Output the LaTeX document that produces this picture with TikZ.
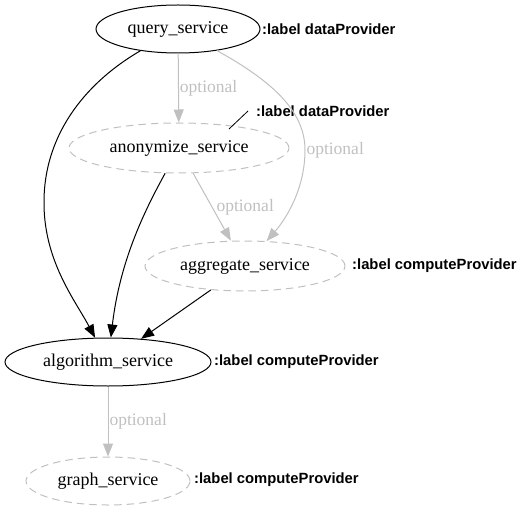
\documentclass[tikz,border=0pt]{standalone}
\usepackage{fontspec}
\setmainfont{Liberation Serif}
\newfontfamily\lblfont{Liberation Sans}
\usetikzlibrary{shapes.geometric,arrows.meta}
\definecolor{optgray}{HTML}{C0C0C0}
\tikzset{
  svc/.style={ellipse, draw=black, line width=1pt, inner sep=0pt, font=\rmfamily\fontsize{18}{20}\selectfont},
  optsvc/.style={svc, draw=optgray, dash pattern=on 7.5pt off 5pt},
  xlab/.style={anchor=west, inner sep=0pt, font=\lblfont\bfseries\fontsize{14.8}{16}\selectfont},
  optlab/.style={text=optgray, inner sep=1pt, font=\rmfamily\fontsize{17.5}{19}\selectfont},
  dep/.style={draw=black, line width=1pt, -{Triangle[length=13pt,width=10pt]}},
  optdep/.style={draw=optgray, line width=1pt, -{Triangle[length=13pt,width=10pt]}},
}
\begin{document}
\begin{tikzpicture}[x=1pt,y=-1pt]
\useasboundingbox (0,0) rectangle (526,510);
% nodes
\node[svc, minimum width=164pt, minimum height=48pt] (q) at (178,29) {query\_service};
\node[optsvc, minimum width=220pt, minimum height=50pt] (an) at (179,148) {anonymize\_service};
\node[optsvc, minimum width=200pt, minimum height=50pt] (ag) at (245,266) {aggregate\_service};
\node[svc, minimum width=206pt, minimum height=48pt] (al) at (108,362) {algorithm\_service};
\node[optsvc, minimum width=164pt, minimum height=48pt] (gr) at (108,481) {graph\_service};
% xlabels
\node[xlab] (lq) at (262,29) {:label dataProvider};
\node[xlab] (lan) at (256,111) {:label dataProvider};
\node[xlab] (lag) at (352,266) {:label computeProvider};
\node[xlab] (lal) at (214,362) {:label computeProvider};
\node[xlab] (lgr) at (194,480) {:label computeProvider};
\coordinate (lk1) at (229,129);
\coordinate (lk2) at (248,111);
\draw[line width=0.8pt] (lk1) -- (lk2);
% edges
\draw[optdep] (q) -- node[optlab, right] {optional} (an);
\draw[optdep] (q) .. controls (270,80) and (305,110) .. (305,150)
  node[optlab, anchor=west] {optional}
  .. controls (305,190) and (285,220) .. (ag);
\draw[optdep] (an) -- node[optlab, pos=0.5, right=3pt] {optional} (ag);
\draw[dep] (q) .. controls (90,80) and (45,130) .. (44,200) .. controls (43,260) and (75,300) .. (al);
\draw[dep] (an) .. controls (145,210) and (120,260) .. (al);
\draw[dep] (ag) -- (al);
\draw[optdep] (al) -- node[optlab, right] {optional} (gr);
\end{tikzpicture}
\end{document}
